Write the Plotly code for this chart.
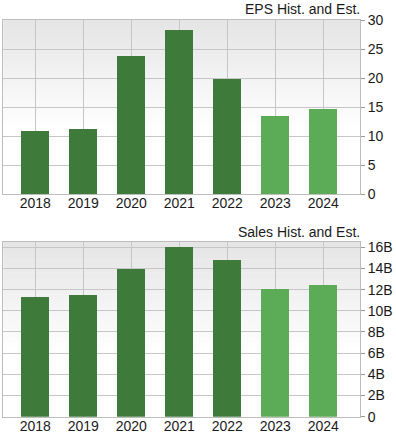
import plotly.graph_objects as go

years = ["2018", "2019", "2020", "2021", "2022", "2023", "2024"]
eps_values = [10.98, 11.3, 23.85, 28.45, 19.9, 13.56, 14.65]
sales_values_b = [11.28, 11.47, 13.93, 16.07, 14.81, 12.04, 12.45]
is_estimate = [False, False, False, False, False, True, True]
eps_ticks = [0, 5, 10, 15, 20, 25, 30]
eps_ticktext = ["0", "5", "10", "15", "20", "25", "30"]
sales_ticks_b = [0, 2, 4, 6, 8, 10, 12, 14, 16]
sales_ticktext = ["0", "2B", "4B", "6B", "8B", "10B", "12B", "14B", "16B"]
eps_title = "EPS Hist. and Est."
sales_title = "Sales Hist. and Est."

DARK = "#3e7b3b"
LIGHT = "#5cab57"
colors = [LIGHT if e else DARK for e in is_estimate]
sales_values = [v * 1e9 for v in sales_values_b]
sales_ticks = [v * 1e9 for v in sales_ticks_b]

W, H = 396, 437
FONT = "Liberation Sans, Arial, sans-serif"

fig = go.Figure()
fig.add_trace(go.Bar(x=years, y=eps_values, marker=dict(color=colors, line=dict(width=0)),
                     width=0.583, xaxis="x", yaxis="y", showlegend=False, hoverinfo="skip"))
fig.add_trace(go.Bar(x=years, y=sales_values, marker=dict(color=colors, line=dict(width=0)),
                     width=0.583, xaxis="x2", yaxis="y2", showlegend=False, hoverinfo="skip"))

xdom = [3.3 / W, 360 / W]
top_dom = [1 - 194.3 / H, 1 - 20 / H]
bot_dom = [1 - 416.7 / H, 1 - 242.3 / H]

grid = "#c6c6c6"
xcommon = dict(domain=xdom, range=[-0.667, 6.764], showgrid=True, gridcolor=grid, gridwidth=1,
               showline=True, linecolor="#bdbdbd", mirror=True, ticks="", ticklen=0,
               tickfont=dict(family=FONT, size=14, color="#1a1a1a"), fixedrange=True,
               type="category", automargin=False, ticklabelstandoff=-4)
ycommon = dict(side="right", showgrid=True, gridcolor=grid, gridwidth=1, showline=True,
               linecolor="#bdbdbd", mirror=True, ticks="outside", ticklen=4, tickcolor="#9a9a9a",
               tickfont=dict(family=FONT, size=14, color="#1a1a1a"), zeroline=False,
               fixedrange=True, automargin=False)

fig.update_layout(
    width=W, height=H, margin=dict(l=0, r=0, t=0, b=0, autoexpand=False),
    paper_bgcolor="white", plot_bgcolor="rgba(0,0,0,0)",
    xaxis=dict(**xcommon, anchor="y"),
    yaxis=dict(**ycommon, domain=top_dom, anchor="x", range=[0, 30.1],
               tickvals=eps_ticks, ticktext=eps_ticktext),
    xaxis2=dict(**xcommon, anchor="y2"),
    yaxis2=dict(**ycommon, domain=bot_dom, anchor="x2", range=[0, 16.47e9],
                tickvals=sales_ticks, ticktext=sales_ticktext),
    bargap=0,
)

# gradient background (light gray at top fading to white)
shapes = []
n = 40
for xr, yr in (("x domain", "y domain"), ("x2 domain", "y2 domain")):
    for i in range(n):
        f0 = i / n
        f1 = (i + 1) / n
        t = 1 - (f0 + f1) / 2
        k = max(0.0, 1 - t / 0.62)
        g = int(round(255 - (255 - 228) * k))
        shapes.append(dict(type="rect", xref=xr, yref=yr, x0=0, x1=1, y0=f0, y1=f1 + 0.002,
                           fillcolor=f"rgb({g},{g},{g})", line=dict(width=0), layer="below"))
fig.update_layout(shapes=shapes)

fig.add_annotation(text=eps_title, xref="paper", yref="paper", x=362 / W, y=1 - 9 / H,
                   xanchor="right", yanchor="middle", showarrow=False,
                   font=dict(family=FONT, size=14, color="#1a1a1a"))
fig.add_annotation(text=sales_title, xref="paper", yref="paper", x=362 / W, y=1 - 232 / H,
                   xanchor="right", yanchor="middle", showarrow=False,
                   font=dict(family=FONT, size=14, color="#1a1a1a"))

fig.write_html("out.html", config={"displayModeBar": False, "staticPlot": True},
               post_script="document.body.style.margin='0px';")
